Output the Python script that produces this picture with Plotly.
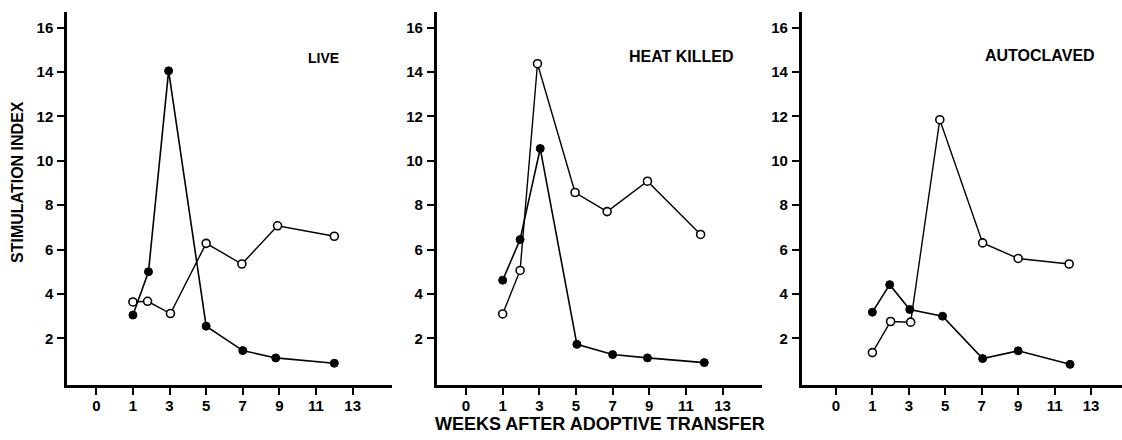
import plotly.graph_objects as go

# ---- data (weeks after adoptive transfer, stimulation index) ----
panel_titles = ["LIVE", "HEAT KILLED", "AUTOCLAVED"]

live_filled_x = [1, 1.85, 2.95, 5, 7, 8.8, 12]
live_filled_y = [3.05, 5.0, 14.05, 2.55, 1.45, 1.12, 0.88]
live_open_x = [1, 1.8, 3.05, 5, 6.95, 8.9, 12]
live_open_y = [3.64, 3.67, 3.12, 6.28, 5.35, 7.07, 6.6]

heat_filled_x = [1, 1.95, 3.05, 5.05, 7, 8.9, 12]
heat_filled_y = [4.62, 6.45, 10.55, 1.73, 1.27, 1.12, 0.91]
heat_open_x = [1, 1.95, 2.9, 4.95, 6.7, 8.9, 11.8]
heat_open_y = [3.1, 5.06, 14.37, 8.57, 7.71, 9.08, 6.68]

auto_filled_x = [1, 1.95, 3.05, 4.85, 7.05, 9, 11.85]
auto_filled_y = [3.18, 4.42, 3.3, 3.0, 1.09, 1.44, 0.83]
auto_open_x = [1, 2.0, 3.1, 4.7, 7.05, 9, 11.8]
auto_open_y = [1.36, 2.76, 2.73, 11.85, 6.3, 5.6, 5.35]

x_tick_vals = [-1, 1, 3, 5, 7, 9, 11, 13]
x_tick_text = ["0", "1", "3", "5", "7", "9", "11", "13"]
y_tick_vals = [2, 4, 6, 8, 10, 12, 14, 16]
y_tick_text = ["2", "4", "6", "8", "10", "12", "14", "16"]

x_title = "WEEKS AFTER ADOPTIVE TRANSFER"
y_title = "STIMULATION INDEX"

W, H = 1122, 440
FONT = "Liberation Sans"

panels = [
    (live_filled_x, live_filled_y, live_open_x, live_open_y),
    (heat_filled_x, heat_filled_y, heat_open_x, heat_open_y),
    (auto_filled_x, auto_filled_y, auto_open_x, auto_open_y),
]
x_domains = [[67 / W, 392 / W], [436.7 / W, 762 / W], [801.7 / W, 1.0]]
x_ranges = [[-2.6, 15.15], [-2.6, 15.15], [-2.88, 14.7]]
y_domain = [(H - 385) / H, (H - 12) / H]
title_pos = [(323, 58), (681, 57), (1040, 56)]
title_sizes = [14, 16, 16]

fig = go.Figure()
for i, (fx, fy, ox, oy) in enumerate(panels):
    xa = "x" if i == 0 else f"x{i+1}"
    ya = "y" if i == 0 else f"y{i+1}"
    fig.add_trace(go.Scatter(
        x=ox, y=oy, xaxis=xa, yaxis=ya, mode="lines+markers",
        line=dict(color="black", width=1.4),
        marker=dict(symbol="circle", size=8, color="white",
                    line=dict(color="black", width=1.6)),
        showlegend=False, hoverinfo="skip"))
    fig.add_trace(go.Scatter(
        x=fx, y=fy, xaxis=xa, yaxis=ya, mode="lines+markers",
        line=dict(color="black", width=1.6),
        marker=dict(symbol="circle", size=8, color="black",
                    line=dict(color="black", width=1)),
        showlegend=False, hoverinfo="skip"))

layout = dict(
    width=W, height=H,
    margin=dict(l=0, r=0, t=0, b=0),
    paper_bgcolor="white", plot_bgcolor="white",
    font=dict(family=FONT, color="black"),
    showlegend=False,
)
for i in range(3):
    xk = "xaxis" if i == 0 else f"xaxis{i+1}"
    yk = "yaxis" if i == 0 else f"yaxis{i+1}"
    ya_ref = "y" if i == 0 else f"y{i+1}"
    xa_ref = "x" if i == 0 else f"x{i+1}"
    layout[xk] = dict(
        domain=x_domains[i], range=x_ranges[i], anchor=ya_ref,
        tickmode="array", tickvals=x_tick_vals,
        ticktext=[f"<b>{t}</b>" for t in x_tick_text],
        ticks="outside", ticklen=7, tickwidth=2, tickcolor="black",
        showline=True, linecolor="black", linewidth=2.5,
        showgrid=False, zeroline=False, automargin=False,
        tickfont=dict(family=FONT, size=15, color="black"),
        ticklabelstandoff=-2,
    )
    layout[yk] = dict(
        domain=y_domain, range=[-0.1, 16.7], anchor=xa_ref,
        tickmode="array", tickvals=y_tick_vals,
        ticktext=[f"<b>{t}</b>" for t in y_tick_text],
        ticks="outside", ticklen=7, tickwidth=2, tickcolor="black",
        showline=True, linecolor="black", linewidth=2.5,
        showgrid=False, zeroline=False, automargin=False,
        tickfont=dict(family=FONT, size=15, color="black"),
        ticklabelstandoff=1,
    )

fig.update_layout(**layout)

for i, t in enumerate(panel_titles):
    px, py = title_pos[i]
    fig.add_annotation(x=px / W, y=1 - py / H, xref="paper", yref="paper",
                       text=f"<b>{t}</b>", showarrow=False,
                       xanchor="center", yanchor="middle",
                       font=dict(family=FONT, size=title_sizes[i], color="black"))

fig.add_annotation(x=600 / W, y=1 - 424 / H, xref="paper", yref="paper",
                   text=f"<b>{x_title}</b>", showarrow=False,
                   xanchor="center", yanchor="middle",
                   font=dict(family=FONT, size=18, color="black"))
fig.add_annotation(x=18 / W, y=1 - 182 / H, xref="paper", yref="paper",
                   text=f"<b>{y_title}</b>", showarrow=False, textangle=-90,
                   xanchor="center", yanchor="middle",
                   font=dict(family=FONT, size=16, color="black"))

fig.write_html("out.html")
